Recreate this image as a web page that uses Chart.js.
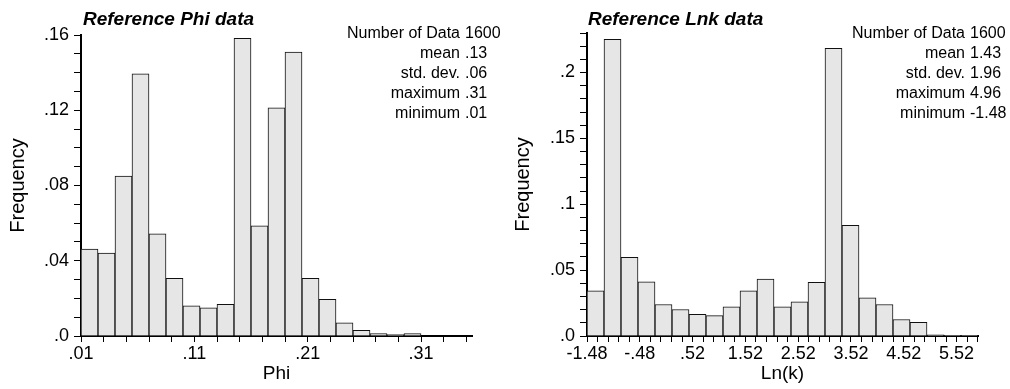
<!DOCTYPE html>
<html>
<head>
<meta charset="utf-8">
<script src="https://cdn.jsdelivr.net/npm/chart.js@4.4.1/dist/chart.umd.min.js"></script>
<style>
  body { margin: 0; background: #fff; }
  .wrap { display: flex; width: 1010px; height: 389px; }
  canvas { display: block; }
</style>
</head>
<body>
<div class="wrap">
  <canvas id="phiChart" width="505" height="389"></canvas>
  <canvas id="lnkChart" width="505" height="389"></canvas>
</div>
<script>
// --- DATA ---

// Phi histogram (23 bins of .015 starting at .01)
const phiBinStart = 0.01;
const phiBinWidth = 0.015;
const phiFreq = [0.0462, 0.0441, 0.085, 0.1393, 0.0543, 0.0307, 0.0161, 0.015, 0.0168, 0.1582,
                 0.0586, 0.1213, 0.1509, 0.0307, 0.0195, 0.007, 0.003, 0.0013, 0.0007, 0.0013,
                 0, 0, 0];
const phiXLabels = [0.01, 0.11, 0.21, 0.31];
const phiYLabels = [0, 0.04, 0.08, 0.12, 0.16];
const phiStatValues = ['1600', '.13', '.06', '.31', '.01'];

// Ln(k) histogram (23 bins of .322 starting at -1.48)
const lnkBinStart = -1.48;
const lnkBinWidth = 0.322;
const lnkFreq = [0.0343, 0.2252, 0.0597, 0.0412, 0.0239, 0.0201, 0.0165, 0.0155, 0.0221, 0.0343,
                 0.0432, 0.0221, 0.0259, 0.0407, 0.2183, 0.0841, 0.029, 0.0239, 0.0125, 0.0104,
                 0.0008, 0.0003, 0.0002];
const lnkXLabels = [-1.48, -0.48, 0.52, 1.52, 2.52, 3.52, 4.52, 5.52];
const lnkYLabels = [0, 0.05, 0.1, 0.15, 0.2];
const lnkStatValues = ['1600', '1.43', '1.96', '4.96', '-1.48'];

const statNames = ['Number of Data', 'mean', 'std. dev.', 'maximum', 'minimum'];

const FONT = '"Liberation Sans", Arial, Helvetica, sans-serif';
Chart.defaults.font.family = FONT;
Chart.defaults.color = '#000';

// --- HELPERS ---

function stepTicks(min, max, step) {
    const out = [];
    for (let i = 0; min + i * step <= max + 1e-9; i++) out.push(+(min + i * step).toFixed(4));
    return out;
}

function shortNum(v) {
    if (Math.abs(v) < 1e-9) return '.0';
    return String(+v.toFixed(2)).replace(/^(-?)0\./, '$1.');
}

function isLabel(v, list) {
    return list.some(l => Math.abs(l - v) < 1e-6);
}

// title + statistics box
const histInfo = {
    id: 'histInfo',
    afterDraw(chart, args, opts) {
        const ctx = chart.ctx;
        ctx.save();
        ctx.fillStyle = '#000';
        ctx.textBaseline = 'alphabetic';
        ctx.font = `italic bold 19px ${FONT}`;
        ctx.textAlign = 'left';
        ctx.fillText(opts.title, 83, 25);

        ctx.font = `16px ${FONT}`;
        statNames.forEach((name, i) => {
            const y = 37.5 + i * 20.2;
            ctx.textAlign = 'right';
            ctx.fillText(name, 460, y);
            ctx.textAlign = 'left';
            ctx.fillText(opts.values[i], 465, y);
        });
        ctx.restore();
    }
};

function makeHistogram(id, c) {
    const xMax = c.binStart + c.freq.length * c.binWidth;
    const points = c.freq.map((f, i) => ({ x: c.binStart + (i + 0.5) * c.binWidth, y: f }));

    return new Chart(document.getElementById(id), {
        type: 'bar',
        data: {
            datasets: [{
                data: points,
                backgroundColor: '#e6e6e6',
                borderColor: '#111',
                borderWidth: 1,
                barThickness: 'flex',
                barPercentage: 1,
                categoryPercentage: 1
            }]
        },
        options: {
            responsive: false,
            animation: false,
            events: [],
            layout: { padding: { top: c.padTop, right: c.padRight, bottom: 0, left: 0 } },
            plugins: {
                legend: { display: false },
                tooltip: { enabled: false },
                histInfo: { title: c.title, values: c.stats }
            },
            scales: {
                x: {
                    type: 'linear',
                    min: c.binStart,
                    max: xMax,
                    offset: false,
                    grid: { display: true, drawOnChartArea: false, offset: false, tickLength: 6, tickColor: '#000', lineWidth: 1 },
                    border: { display: true, color: '#000', width: 2 },
                    afterBuildTicks: s => { s.ticks = stepTicks(c.binStart, xMax, c.xStep).map(v => ({ value: v })); },
                    afterFit: s => { s.height = 53; },
                    ticks: {
                        autoSkip: false,
                        maxRotation: 0,
                        padding: 1,
                        font: { size: 18 },
                        callback: v => isLabel(v, c.xLabels) ? shortNum(v) : ''
                    },
                    title: { display: true, text: c.xTitle, font: { size: 19 }, padding: { top: 0, bottom: 4 } }
                },
                y: {
                    min: 0,
                    max: c.yMax,
                    grid: { display: true, drawOnChartArea: false, tickLength: 7, tickColor: '#000', lineWidth: 1 },
                    border: { display: true, color: '#000', width: 2 },
                    afterBuildTicks: s => { s.ticks = stepTicks(0, c.yMax, 0.01).map(v => ({ value: v })); },
                    afterFit: s => { s.width = c.yWidth; },
                    ticks: {
                        autoSkip: false,
                        padding: 5,
                        font: { size: 18 },
                        callback: v => isLabel(v, c.yLabels) ? shortNum(v) : ''
                    },
                    title: { display: true, text: 'Frequency', font: { size: 20 }, padding: { top: 6, bottom: 0 } }
                }
            }
        },
        plugins: [histInfo]
    });
}

makeHistogram('phiChart', {
    freq: phiFreq, binStart: phiBinStart, binWidth: phiBinWidth,
    xStep: 0.02, xLabels: phiXLabels, yMax: 0.16, yLabels: phiYLabels,
    xTitle: 'Phi', title: 'Reference Phi data', stats: phiStatValues,
    padTop: 35, padRight: 33, yWidth: 81
});

makeHistogram('lnkChart', {
    freq: lnkFreq, binStart: lnkBinStart, binWidth: lnkBinWidth,
    xStep: 0.2, xLabels: lnkXLabels, yMax: 0.23, yLabels: lnkYLabels,
    xTitle: 'Ln(k)', title: 'Reference Lnk data', stats: lnkStatValues,
    padTop: 33, padRight: 32, yWidth: 82
});
</script>
</body>
</html>
